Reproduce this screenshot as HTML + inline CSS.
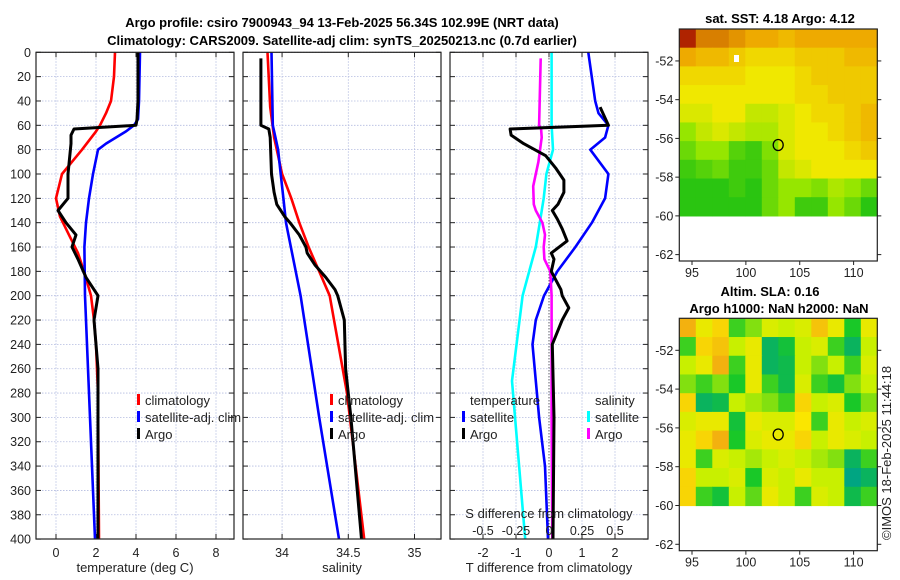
<!DOCTYPE html>
<html><head><meta charset="utf-8"><style>
body{margin:0;background:#fff;}
svg{display:block;font-family:"Liberation Sans","DejaVu Sans",sans-serif;}
</style></head><body>
<svg id="fig" width="900" height="580" xmlns="http://www.w3.org/2000/svg">
<text x="342" y="27" font-size="13" font-weight="bold" text-anchor="middle">Argo profile: csiro 7900943_94 13-Feb-2025 56.34S 102.99E (NRT data)</text>
<text x="342" y="45" font-size="13" font-weight="bold" text-anchor="middle">Climatology: CARS2009. Satellite-adj clim: synTS_20250213.nc (0.7d earlier)</text>
<text x="780" y="23" font-size="13" font-weight="bold" text-anchor="middle">sat. SST: 4.18 Argo: 4.12</text>
<text x="770" y="296" font-size="13" font-weight="bold" text-anchor="middle">Altim. SLA: 0.16</text>
<text x="779" y="313" font-size="13" font-weight="bold" text-anchor="middle">Argo h1000: NaN h2000: NaN</text>
<text transform="translate(891,540) rotate(-90)" font-size="13" fill="#222">©IMOS 18-Feb-2025 11:44:18</text>
<g id="layer"></g>
</svg>
<script>
// ---- profile data (depth in m) ----
const tClimDepth=[0,20,40,50,60,65,80,90,100,120,135,150,165,180,200,220,240,280,400];
const tClimVal=[2.95,2.9,2.75,2.5,2.2,2.0,1.3,0.8,0.3,0.0,0.2,0.65,1.1,1.4,1.75,1.9,2.0,2.1,2.15];
const tSatDepth=[0,40,55,60,65,75,80,100,120,140,160,200,300,400];
const tSatVal=[4.2,4.15,4.1,3.9,3.5,2.5,2.1,1.85,1.65,1.5,1.42,1.45,1.7,1.95];
const tArgoDepth=[0,40,55,60,63,68,75,100,120,130,140,150,160,170,185,200,210,220,240,260,300,400];
const tArgoVal=[4.1,4.1,4.05,4.0,0.9,0.75,0.75,0.6,0.6,0.1,0.5,1.0,0.8,1.1,1.5,2.1,2.0,1.9,2.0,2.1,2.1,2.1];
const sClimDepth=[0,45,70,100,120,140,160,180,200,280,400];
const sClimVal=[33.89,33.91,33.94,34.0,34.07,34.13,34.2,34.28,34.36,34.49,34.62];
const sSatDepth=[0,60,80,100,120,140,200,300,400];
const sSatVal=[33.92,33.93,33.97,33.99,34.01,34.03,34.14,34.28,34.43];
const sArgoDepth=[5,60,63,70,100,115,125,135,140,150,160,165,175,185,195,200,220,260,300,400];
const sArgoVal=[33.84,33.84,33.9,33.91,33.92,33.94,33.96,34.02,34.06,34.13,34.18,34.19,34.25,34.33,34.4,34.42,34.47,34.48,34.52,34.6];
const dTSatDepth=[0,40,50,60,70,80,100,120,140,160,180,200,220,240,300,340,400];
const dTSatVal=[1.19,1.4,1.5,1.8,1.7,1.25,1.8,1.7,1.3,0.8,0.25,-0.15,-0.4,-0.5,-0.3,-0.12,-0.03];
const dTArgoDepth=[45,60,63,68,75,85,95,105,115,125,130,137,145,155,165,170,180,195,200,210,220,240,300,400];
const dTArgoVal=[1.55,1.8,-1.18,-1.15,-0.77,-0.1,0.2,0.45,0.45,0.27,0.1,0.25,0.4,0.55,0.07,0.15,0.07,0.36,0.4,0.6,0.4,0.1,0.15,0.12];
const dSArgoDepth=[5,60,63,70,90,110,125,130,140,150,160,170,180,200,300,400];
const dSArgoVal=[-0.063,-0.075,-0.06,-0.055,-0.08,-0.12,-0.115,-0.1,-0.05,-0.03,-0.04,-0.035,0.01,0.02,0.02,0.025];
const dSSatDepth=[0,60,80,100,120,140,160,180,200,270,400];
const dSSatVal=[0.02,0.02,0.03,-0.02,-0.04,-0.07,-0.1,-0.15,-0.2,-0.28,-0.18];
const depthTicks=[0,20,40,60,80,100,120,140,160,180,200,220,240,260,280,300,320,340,360,380,400];
const tTicks=[0,2,4,6,8];
const sTicks=[34,34.5,35];
const dTTicks=[-2,-1,0,1,2];
const dSTicks=[-0.5,-0.25,0,0.25,0.5];
const dSTickLabels=["-0.5","-0.25","0","0.25","0.5"];
// ---- map data (rows north->south, cols west->east), 0..1 colour index ----
const sstGrid=[
[0.95,0.8,0.8,0.75,0.7,0.7,0.65,0.7,0.7,0.7,0.7,0.7],
[0.7,0.65,0.65,0.6,0.55,0.55,0.55,0.6,0.6,0.6,0.65,0.65],
[0.55,0.55,0.55,0.55,0.5,0.5,0.5,0.55,0.6,0.6,0.6,0.6],
[0.5,0.5,0.5,0.5,0.5,0.5,0.5,0.55,0.55,0.6,0.6,0.6],
[0.45,0.45,0.5,0.5,0.4,0.4,0.45,0.5,0.55,0.55,0.6,0.65],
[0.3,0.4,0.45,0.4,0.35,0.35,0.45,0.5,0.5,0.55,0.6,0.65],
[0.2,0.3,0.3,0.15,0.1,0.25,0.45,0.5,0.5,0.5,0.55,0.6],
[0.1,0.15,0.2,0.1,0.1,0.2,0.4,0.45,0.5,0.5,0.5,0.5],
[0.05,0.05,0.05,0.1,0.05,0.2,0.3,0.3,0.25,0.35,0.3,0.2],
[0.05,0.05,0.05,0.05,0.05,0.2,0.3,0.1,0.1,0.3,0.2,0.05]];
const slaGrid=[
[0.8,0.6,0.7,0.3,0.4,0.55,0.5,0.55,0.75,0.6,0.25,0.6],
[0.3,0.7,0.75,0.5,0.6,0.1,0.2,0.5,0.55,0.3,0.1,0.5],
[0.5,0.6,0.8,0.3,0.6,0.1,0.15,0.5,0.4,0.5,0.3,0.55],
[0.4,0.3,0.4,0.25,0.6,0.3,0.15,0.55,0.3,0.2,0.4,0.5],
[0.7,0.1,0.15,0.5,0.45,0.4,0.3,0.7,0.5,0.55,0.25,0.4],
[0.55,0.6,0.6,0.2,0.6,0.55,0.55,0.65,0.3,0.6,0.5,0.55],
[0.6,0.7,0.8,0.25,0.55,0.6,0.6,0.7,0.5,0.6,0.55,0.5],
[0.6,0.3,0.55,0.5,0.45,0.5,0.55,0.5,0.45,0.4,0.1,0.3],
[0.7,0.5,0.5,0.55,0.25,0.55,0.5,0.6,0.5,0.5,0.0,0.1],
[0.7,0.3,0.2,0.5,0.35,0.6,0.5,0.3,0.55,0.5,0.15,0.3]];
const lonTicks=[95,100,105,110];
const latTicks=[-52,-54,-56,-58,-60,-62];
const argoLon=[103];
const argoLat=[-56.34];

const NS="http://www.w3.org/2000/svg";
const layer=document.getElementById('layer');
function mk(tag,attrs,parent){const e=document.createElementNS(NS,tag);for(const k in attrs)e.setAttribute(k,attrs[k]);(parent||layer).appendChild(e);return e;}
const Y0=52.3,YS=1.217,YB=539;
const yD=d=>Y0+d*YS;

function panel(x0,x1,vmin,vmax,name){
  const sx=v=>x0+(v-vmin)/(vmax-vmin)*(x1-x0);
  return {x0,x1,sx,name};
}
const P1=panel(36,234,-1,8.9,'temperature');
const P2=panel(243,441,33.705,35.2,'salinity');
const P3=panel(450,648,-3,3,'difference');
const dsx=v=>P3.sx(v*4);

function grid(P,xt,sxf){
  const g=mk('g',{});
  
  
  depthTicks.forEach(d=>{mk('line',{x1:P.x0,x2:P.x1,y1:yD(d),y2:yD(d),stroke:'#b4bce0','stroke-width':0.8,'stroke-dasharray':'1.5 1.5'},g);
    mk('line',{x1:P.x0,x2:P.x0+5,y1:yD(d),y2:yD(d),stroke:'#222'},g);mk('line',{x1:P.x1-5,x2:P.x1,y1:yD(d),y2:yD(d),stroke:'#222'},g);});
  xt.forEach(v=>{const x=sxf(v);mk('line',{x1:x,x2:x,y1:Y0,y2:YB,stroke:'#b4bce0','stroke-width':0.8,'stroke-dasharray':'1.5 1.5'},g);
    mk('line',{x1:x,x2:x,y1:YB-5,y2:YB,stroke:'#222'},g);mk('line',{x1:x,x2:x,y1:Y0,y2:Y0+5,stroke:'#222'},g);});
}
function frame(P){const r=mk('rect',{x:P.x0,y:Y0,width:P.x1-P.x0,height:YB-Y0,fill:'none',stroke:'#222','stroke-width':1.2});
  }
function line(depths,vals,sxf,color,name,w){
  const pts=depths.map((d,i)=>sxf(vals[i]).toFixed(1)+','+yD(d).toFixed(1)).join(' ');
  const p=mk('polyline',{points:pts,fill:'none',stroke:color,'stroke-width':w||2.6,'stroke-linejoin':'round'});
  
  
}
function txt(x,y,s,opts,name){const t=mk('text',Object.assign({x,y,'font-size':12,fill:'#222'},opts||{}));t.textContent=s;
  return t;}

grid(P1,tTicks,P1.sx);grid(P2,sTicks,P2.sx);grid(P3,dTTicks,P3.sx);
mk('line',{x1:P3.sx(0),x2:P3.sx(0),y1:Y0,y2:YB,stroke:'#333','stroke-width':1,'stroke-dasharray':'1 2'});

line(tClimDepth,tClimVal,P1.sx,'#f00','temp-climatology-line');
line(tSatDepth,tSatVal,P1.sx,'#00f','temp-satellite-line');
line(tArgoDepth,tArgoVal,P1.sx,'#000','temp-argo-line',3);
line(sClimDepth,sClimVal,P2.sx,'#f00','sal-climatology-line');
line(sSatDepth,sSatVal,P2.sx,'#00f','sal-satellite-line');
line(sArgoDepth,sArgoVal,P2.sx,'#000','sal-argo-line',3);
line(dSSatDepth,dSSatVal,dsx,'#0ff','sdiff-satellite-line');
line(dTSatDepth,dTSatVal,P3.sx,'#00f','tdiff-satellite-line');
line(dSArgoDepth,dSArgoVal,dsx,'#f0f','sdiff-argo-line');
line(dTArgoDepth,dTArgoVal,P3.sx,'#000','tdiff-argo-line',3);
frame(P1);frame(P2);frame(P3);

depthTicks.forEach(d=>txt(31,yD(d)+4.5,String(d),{'text-anchor':'end','font-size':12.5},'depth-tick-label'));
tTicks.forEach(v=>txt(P1.sx(v),557,String(v),{'text-anchor':'middle','font-size':12.5},'temp-tick-label'));
sTicks.forEach(v=>txt(P2.sx(v),557,String(v),{'text-anchor':'middle','font-size':12.5},'sal-tick-label'));
dTTicks.forEach(v=>txt(P3.sx(v),557,String(v),{'text-anchor':'middle','font-size':12.5},'tdiff-tick-label'));
dSTicks.forEach((v,i)=>txt(dsx(v),535,dSTickLabels[i],{'text-anchor':'middle','font-size':12.5},'sdiff-tick-label'));
txt(135,572,'temperature (deg C)',{'text-anchor':'middle','font-size':13},'temp-axis-title');
txt(342,572,'salinity',{'text-anchor':'middle','font-size':13},'sal-axis-title');
txt(549,572,'T difference from climatology',{'text-anchor':'middle','font-size':13},'tdiff-axis-title');
txt(549,518,'S difference from climatology',{'text-anchor':'middle','font-size':13},'sdiff-axis-title');

function legendEntry(x,y,color,label){
  const g=mk('g',{});
  
  
  mk('rect',{x:x,y:y-11,width:3,height:11,fill:color},g);
  const t=mk('text',{x:x+8,y:y,'font-size':13,fill:'#222'},g);t.textContent=label;
}
[137,330].forEach(x=>{
  legendEntry(x,405,'#f00','climatology');legendEntry(x,422,'#00f','satellite-adj. clim');legendEntry(x,439,'#000','Argo');
});
txt(470,405,'temperature',{'font-size':13},'legend-temperature-header');
legendEntry(462,422,'#00f','satellite');legendEntry(462,439,'#000','Argo');
txt(595,405,'salinity',{'font-size':13},'legend-salinity-header');
legendEntry(587,422,'#0ff','satellite');legendEntry(587,439,'#f0f','Argo');

// ---- maps ----
const MX0=679.3,MX1=877.3,LON0=93.82,LON1=112.2;
const mx=l=>MX0+(l-LON0)/(LON1-LON0)*(MX1-MX0);
function lerpCol(stops,v){v=Math.max(0,Math.min(1,v));for(let i=1;i<stops.length;i++){if(v<=stops[i][0]){const a=stops[i-1],b=stops[i],f=(v-a[0])/(b[0]-a[0]);
  return 'rgb('+[1,2,3].map(k=>Math.round(a[k]+(b[k]-a[k])*f)).join(',')+')';}}return 'rgb('+stops[stops.length-1].slice(1).join(',')+')';}
const sstStops=[[0,20,190,20],[0.3,150,230,0],[0.5,240,232,0],[0.7,238,170,0],[0.85,205,105,0],[1,160,0,0]];
const slaStops=[[0,0,165,130],[0.25,25,200,40],[0.5,200,240,0],[0.65,250,230,0],[0.85,240,160,20],[1,210,110,20]];
function map(top,bottom,gridData,stops,name){
  const latTop=-52+(61-29)/19.4; // axis top latitude (~-50.35)
  const latBot=-62.33;
  const my=l=>top+(latTop-l)*((bottom-top)/(latTop-latBot));
  const g=mk('g',{});
  
  
  const rows=gridData.length,cols=gridData[0].length;
  const lat0=latTop,lat1=-60;
  for(let r=0;r<rows;r++)for(let c=0;c<cols;c++){
    const la=lat0+(lat1-lat0)*r/rows,lb=lat0+(lat1-lat0)*(r+1)/rows;
    const lo=LON0+(LON1-LON0)*c/cols,lo2=LON0+(LON1-LON0)*(c+1)/cols;
    const cell=mk('rect',{x:mx(lo),y:my(la),width:mx(lo2)-mx(lo)+0.6,height:my(lb)-my(la)+0.6,fill:lerpCol(stops,gridData[r][c])},g);
    
    
  }
  mk('rect',{x:MX0,y:top,width:MX1-MX0,height:bottom-top,fill:'none',stroke:'#222','stroke-width':1.2},g);
  latTicks.forEach(l=>{mk('line',{x1:MX0-4,x2:MX0,y1:my(l),y2:my(l),stroke:'#222'},g);mk('line',{x1:MX1,x2:MX1+4,y1:my(l),y2:my(l),stroke:'#222'},g);
    txt(MX0-6,my(l)+4.5,String(l),{'text-anchor':'end','font-size':12.5},'lat-tick-label');});
  lonTicks.forEach(l=>{mk('line',{x1:mx(l),x2:mx(l),y1:bottom,y2:bottom+4,stroke:'#222'},g);
    txt(mx(l),bottom+16,String(l),{'text-anchor':'middle','font-size':12.5},'lon-tick-label');});
  const c=mk('ellipse',{cx:mx(argoLon[0]),cy:my(argoLat[0]),rx:5,ry:5.5,fill:'none',stroke:'#000','stroke-width':1.3},g);
  
  
}
map(29,261,sstGrid,sstStops,'sst-map');
map(318.3,550.7,slaGrid,slaStops,'sla-map');
mk('rect',{x:734,y:55,width:5,height:7,fill:'#fff'});
</script>
</body></html>
